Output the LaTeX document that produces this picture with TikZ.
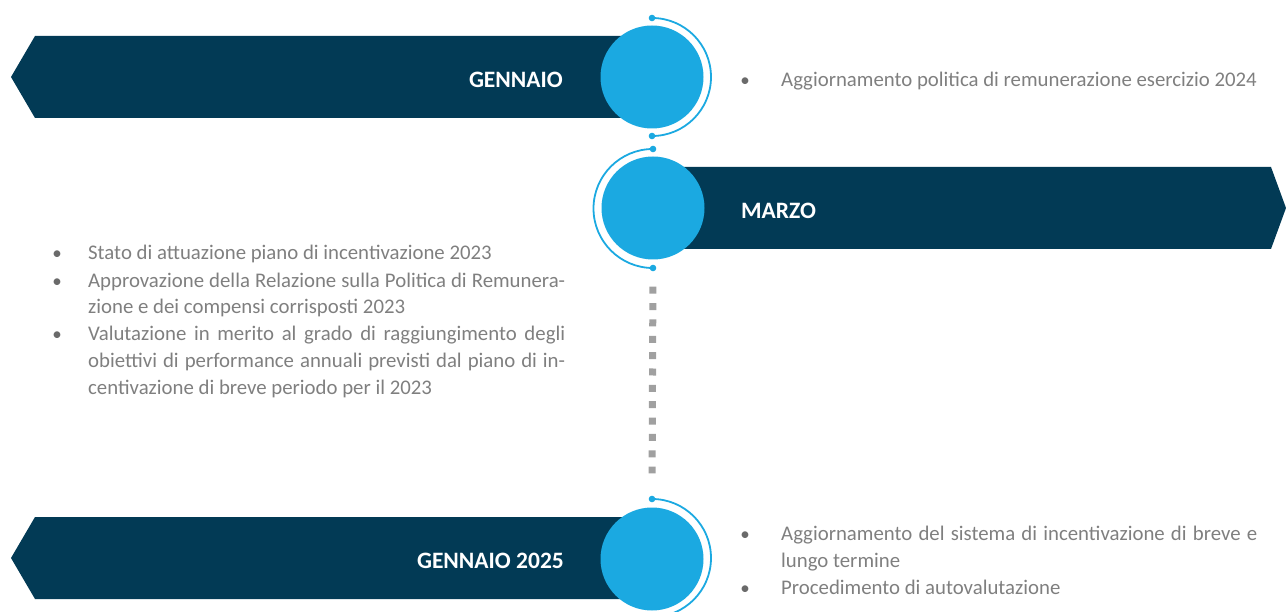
\documentclass[tikz,border=0pt]{standalone}
\usepackage{fontspec}
\setmainfont{Carlito}
\definecolor{navy}{HTML}{023A55}
\definecolor{sky}{HTML}{1BA9E1}
\definecolor{txtgray}{HTML}{7F7F7F}
\definecolor{bulgray}{HTML}{6A6A6A}
\definecolor{sqgray}{HTML}{A0A0A0}
\begin{document}
\begin{tikzpicture}[x=1pt,y=-1pt,
  banner/.style={fill=navy},
  disc/.style={circle,fill=sky,minimum size=103pt,inner sep=0pt},
  ring/.style={draw=sky,line width=1.8pt},
  ringdot/.style={fill=sky},
  title/.style={font=\fontsize{23.5}{28}\bfseries\selectfont,text=white,inner sep=0pt},
  body/.style={font=\fontsize{20.8}{25}\selectfont,text=txtgray,inner sep=0pt,anchor=base west},
  bul/.style={font=\fontsize{19}{25}\selectfont,text=bulgray,inner sep=0pt,anchor=base},
  dotsq/.style={draw=sqgray,line width=7pt,dash pattern=on 7pt off 9.36pt}
]
\useasboundingbox (0,0) rectangle (1286,612);
\clip (0,0) rectangle (1286,612);
% banners
\fill[banner] (11,77) -- (35,36) -- (652,36) -- (652,118) -- (35,118) -- cycle;
\fill[banner] (652,167) -- (1271,167) -- (1286,208) -- (1271,249) -- (652,249) -- cycle;
\fill[banner] (11,558) -- (35,517) -- (652,517) -- (652,599) -- (35,599) -- cycle;
% discs
\node[disc] (c1) at (652,77) {};
\node[disc] (c2) at (653,208) {};
\node[disc] (c3) at (652,559) {};
% rings
\draw[ring] (652,18) arc[start angle=-90,end angle=90,radius=59];
\fill[ringdot] (652,18) circle (3.3);
\fill[ringdot] (652,136) circle (3.3);
\draw[ring] (653,149) arc[start angle=270,end angle=90,radius=59.5];
\fill[ringdot] (653,149) circle (3.3);
\fill[ringdot] (653,268) circle (3.3);
\draw[ring] (652,499) arc[start angle=-90,end angle=90,radius=59];
\fill[ringdot] (652,499) circle (3.3);
% dotted connector
\draw[dotsq,shorten <=27pt,shorten >=34pt] (c2.south) -- (c3.north);
% titles
\node[title,anchor=base east] (t1) at (563,87.5) {GENNAIO};
\node[title,anchor=base west] (t2) at (741,218.5) {MARZO};
\node[title,anchor=base east] (t3) at (564,568.5) {GENNAIO 2025};
% right text 1
\node[bul] (b1) at (745,87) {•};
\node[body] (r1) at (781,87) {Aggiornamento politica di remunerazione esercizio 2024};
% left text
\node[bul] (b2) at (57,260) {•};
\node[body] (l1) at (88,260) {Stato di attuazione piano di incentivazione 2023};
\node[bul] (b3) at (57,287.5) {•};
\node[body] (l2) at (88,287.5) {\makebox[477pt][s]{Approvazione della Relazione sulla Politica di Remunera-}};
\node[body] (l3) at (88,314) {zione e dei compensi corrisposti 2023};
\node[bul] (b4) at (57,341) {•};
\node[body] (l4) at (88,341) {\makebox[477pt][s]{Valutazione in merito al grado di raggiungimento degli}};
\node[body] (l5) at (88,367.5) {\makebox[477pt][s]{obiettivi di performance annuali previsti dal piano di in-}};
\node[body] (l6) at (88,394.5) {centivazione di breve periodo per il 2023};
% bottom right text
\node[bul] (b5) at (745,540) {•};
\node[body] (r2) at (781,540) {\makebox[476pt][s]{Aggiornamento del sistema di incentivazione di breve e}};
\node[body] (r3) at (781,567) {lungo termine};
\node[bul] (b6) at (745,594) {•};
\node[body] (r4) at (781,594) {Procedimento di autovalutazione};
\end{tikzpicture}
\end{document}
